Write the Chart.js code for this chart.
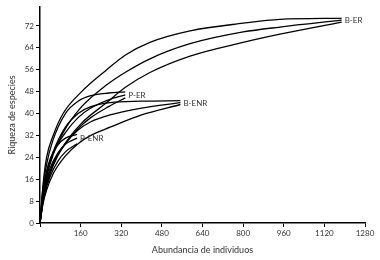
<!DOCTYPE html>
<html><head><meta charset="utf-8">
<script src="https://cdn.jsdelivr.net/npm/chart.js@4"></script>
<style>html,body{margin:0;padding:0;background:#fff}#w{width:380px;height:260px}</style>
</head><body><div id="w"><canvas id="c"></canvas></div>
<script>
// Sample sizes (individuals) per site
const nBER  = [0, 13, 26, 52, 91, 164, 263, 335, 433, 591, 800, 945, 1188];
const nBENR = [0, 13, 26, 52, 100, 150, 200, 276, 400, 553];
const nPER  = [0, 12, 25, 50, 100, 150, 200, 270, 336];
const nPENR = [0, 10, 20, 40, 70, 100, 146];
// Species richness: upper, mean, lower curves
const berUp   = [0, 15, 24, 32, 40, 48, 56, 61.3, 66, 70.2, 73, 74.4, 74.8];
const berMid  = [0, 11, 17, 25, 33, 42.5, 50.5, 55, 60, 65.5, 69.8, 71.6, 74.1];
const berLow  = [0, 9, 14, 21, 28, 36.5, 44, 49.5, 55, 61, 66, 69, 73.4];
const benrUp  = [0, 12, 18, 26, 35, 40, 42.5, 44, 44.5, 44.7];
const benrMid = [0, 9, 14.5, 21.5, 29, 34, 37, 39.5, 42, 44];
const benrLow = [0, 7.5, 12, 18, 24.5, 29, 32, 35, 39.5, 43.3];
const perUp   = [0, 13, 21, 30, 40, 44.5, 46.5, 47.5, 47.9];
const perMid  = [0, 10, 17, 25, 33, 38.5, 42, 45, 46.8];
const perLow  = [0, 8.5, 14.5, 21.5, 29, 34.5, 38.5, 42.5, 45.7];
const penrUp  = [0, 10, 16.5, 23.5, 28.5, 31, 32.4];
const penrMid = [0, 8, 13.5, 20, 25.5, 28.8, 31];
const penrLow = [0, 6.5, 11, 17, 22.5, 26, 28.9];
const siteLabels = ['B-ER', 'B-ENR', 'P-ER', 'P-ENR'];
const xTicks = [0, 160, 320, 480, 640, 800, 960, 1120, 1280];
const yTicks = [0, 8, 16, 24, 32, 40, 48, 56, 64, 72];

const groups = [
  {label: siteLabels[0], n: nBER,  ys: [berUp, berMid, berLow]},
  {label: siteLabels[1], n: nBENR, ys: [benrUp, benrMid, benrLow]},
  {label: siteLabels[2], n: nPER,  ys: [perUp, perMid, perLow]},
  {label: siteLabels[3], n: nPENR, ys: [penrUp, penrMid, penrLow]}
];
const datasets = [];
groups.forEach(g => g.ys.forEach((ys, k) => {
  datasets.push({
    label: g.label, site: g.label, mid: k === 1,
    data: g.n.map((x, i) => ({x, y: ys[i]})),
    borderColor: '#000', borderWidth: 1.3, pointRadius: 0,
    cubicInterpolationMode: 'monotone', fill: false
  });
}));

const FONT = 'Lato, "Open Sans", sans-serif';
const labelPlugin = {
  id: 'endLabels',
  afterDatasetsDraw(chart) {
    const ctx = chart.ctx, xs = chart.scales.x, ys = chart.scales.y;
    ctx.save();
    ctx.font = '8px ' + FONT;
    ctx.fillStyle = '#333';
    ctx.textBaseline = 'middle';
    ctx.textAlign = 'left';
    chart.data.datasets.forEach(ds => {
      if (!ds.mid) return;
      const p = ds.data[ds.data.length - 1];
      ctx.fillText(ds.site, xs.getPixelForValue(p.x) + 3, ys.getPixelForValue(p.y) + 0.5);
    });
    ctx.restore();
  }
};

new Chart(document.getElementById('c'), {
  type: 'line',
  data: {datasets},
  plugins: [labelPlugin],
  options: {
    responsive: true, maintainAspectRatio: false, animation: false,
    layout: {padding: {top: 0, right: 15, left: 4, bottom: 0}},
    plugins: {legend: {display: false}, tooltip: {enabled: false}},
    scales: {
      x: {
        type: 'linear', min: xTicks[0], max: xTicks[xTicks.length - 1],
        afterBuildTicks: s => { s.ticks = xTicks.map(v => ({value: v})); },
        afterFit: s => { s.height = 37; },
        ticks: {font: {size: 8, family: FONT}, color: '#333', padding: 2, maxRotation: 0,
          callback: v => v === 0 ? '' : String(v)},
        grid: {drawOnChartArea: false, drawTicks: true, tickLength: 4, color: '#000', lineWidth: 1},
        border: {color: '#000', width: 1.5},
        title: {display: true, text: 'Abundancia de individuos', font: {size: 9, family: FONT}, color: '#333', padding: {top: 0, bottom: 5}}
      },
      y: {
        type: 'linear', min: 0, max: 79,
        afterBuildTicks: s => { s.ticks = yTicks.map(v => ({value: v})); },
        afterFit: s => { s.width = 36; },
        ticks: {font: {size: 8, family: FONT}, color: '#333', padding: 2},
        grid: {drawOnChartArea: false, drawTicks: true, tickLength: 4, color: '#000', lineWidth: 1},
        border: {color: '#000', width: 1.5},
        title: {display: true, text: 'Riqueza de especies', font: {size: 9, family: FONT}, color: '#333', padding: {top: 3, bottom: 0}}
      }
    }
  }
});
</script></body></html>
